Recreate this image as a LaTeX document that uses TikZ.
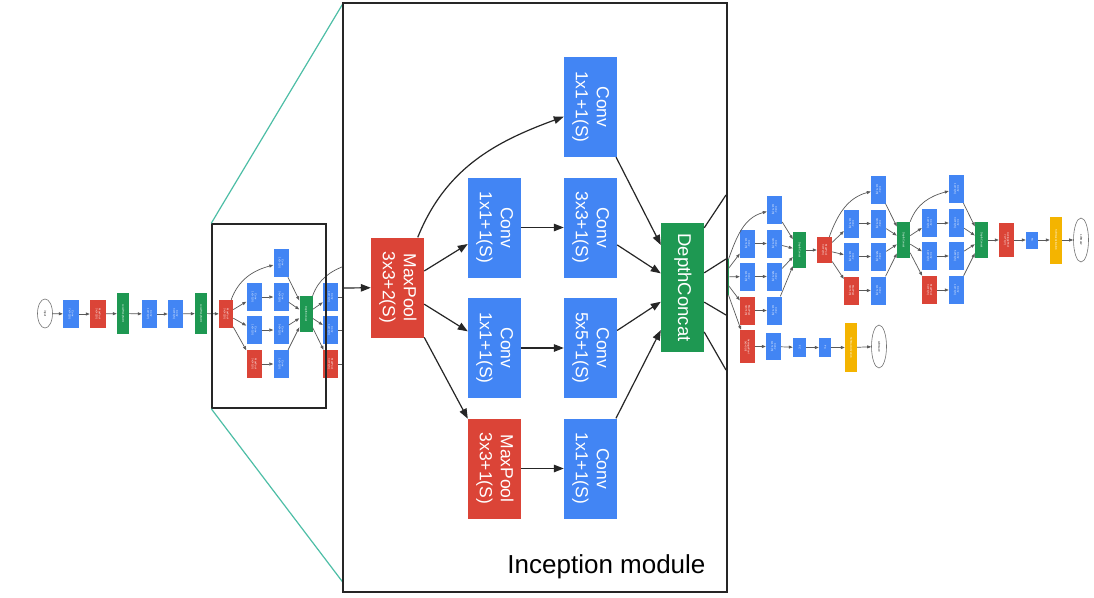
\documentclass[tikz,border=0pt]{standalone}
\usepackage{fontspec}
\setmainfont{Liberation Sans}
\usepackage{graphicx}
\usetikzlibrary{positioning,calc,arrows.meta,shapes.geometric}
\definecolor{gblue}{RGB}{66,133,244}
\definecolor{gred}{RGB}{219,68,55}
\definecolor{ggreen}{RGB}{30,152,82}
\definecolor{gyellow}{RGB}{244,180,0}
\definecolor{zoomline}{RGB}{77,190,166}
\newcommand{\vtext}[1]{\rotatebox{-90}{\begin{tabular}{@{}c@{}}#1\end{tabular}}}
\newcommand{\tinytext}[1]{\rotatebox{-90}{\fontsize{2.6}{3.2}\selectfont\begin{tabular}{@{}c@{}}#1\end{tabular}}}
\tikzset{bigconv/.style={shape=rectangle, fill=gblue, text=white, minimum width=53pt, minimum height=100pt, inner sep=0pt, font=\fontsize{17.5}{21}\selectfont}}
\tikzset{bigpool/.style={bigconv, fill=gred}}
\tikzset{bigcat/.style={bigconv, fill=ggreen, minimum width=43pt, minimum height=129pt, font=\fontsize{18.5}{22}\selectfont}}
\tikzset{bigarrow/.style={line width=1.2pt, draw=black!85, -{Triangle[length=10pt,width=7.5pt]}}}
\tikzset{bigline/.style={line width=1.2pt, draw=black!85}}
\tikzset{tconv/.style={shape=rectangle, fill=gblue, text=white, minimum width=15pt, minimum height=28pt, inner sep=0pt}}
\tikzset{tpool/.style={tconv, fill=gred}}
\tikzset{tnorm/.style={tconv, fill=ggreen, minimum width=12pt, minimum height=41pt}}
\tikzset{tcat/.style={tconv, fill=ggreen, minimum width=13pt, minimum height=36pt}}
\tikzset{tsoft/.style={tconv, fill=gyellow, minimum width=12pt, minimum height=47pt}}
\tikzset{tend/.style={shape=ellipse, draw=black!55, line width=0.6pt, fill=white, text=black, minimum width=15pt, minimum height=29pt, inner sep=0pt}}
\tikzset{tarrow/.style={line width=0.7pt, draw=black!65, -{Triangle[length=4pt,width=3pt]}}}
\tikzset{tline/.style={line width=0.7pt, draw=black!65}}
% one small inception block: prefix, input node, x and y of the concat, y of the top row
\newcommand{\tinception}[5]{%
  \node[tconv] (#1top) at (#3-25,-#5) {\tinytext{Conv\\1x1+1(S)}};
  \node[tconv] (#1a2) at (#3-52,-#5-34) {\tinytext{Conv\\1x1+1(S)}};
  \node[tconv] (#1b2) at (#3-25,-#5-34) {\tinytext{Conv\\3x3+1(S)}};
  \node[tconv] (#1a3) at (#3-52,-#5-67) {\tinytext{Conv\\1x1+1(S)}};
  \node[tconv] (#1b3) at (#3-25,-#5-67) {\tinytext{Conv\\5x5+1(S)}};
  \node[tpool] (#1a4) at (#3-52,-#5-101) {\tinytext{MaxPool\\3x3+1(S)}};
  \node[tconv] (#1b4) at (#3-25,-#5-101) {\tinytext{Conv\\1x1+1(S)}};
  \node[tcat]  (#1cat) at (#3,-#4) {\tinytext{DepthConcat}};
  \draw[tarrow] (#2) to[out=70,in=195] (#1top);
  \draw[tarrow] (#1top) -- (#1cat);
  \foreach \r in {2,3,4} {
    \draw[tarrow] (#2) -- (#1a\r);
    \draw[tarrow] (#1a\r) -- (#1b\r);
    \draw[tarrow] (#1b\r) -- (#1cat);
  }%
}

\begin{document}
\begin{tikzpicture}[x=1pt,y=1pt]
\fill[white] (0,0) rectangle (1094,-597);
\useasboundingbox (0,0) rectangle (1094,-597);
%Stem
\node[tend] (input) at (45,-313.5) {\tinytext{input}};
\node[tconv, minimum width=16pt] (conva) at (71,-314) {\tinytext{Conv\\7x7+2(S)}};
\node[tpool, minimum width=16pt] (poola) at (98,-314) {\tinytext{MaxPool\\3x3+2(S)}};
\node[tnorm] (norma) at (123,-313.5) {\tinytext{LocalRespNorm}};
\node[tconv] (convb) at (149.5,-314) {\tinytext{Conv\\1x1+1(V)}};
\node[tconv] (convc) at (175.5,-314) {\tinytext{Conv\\3x3+1(S)}};
\node[tnorm] (normb) at (201,-313.5) {\tinytext{LocalRespNorm}};
\node[tpool, minimum width=14pt] (poolb) at (226,-314) {\tinytext{MaxPool\\3x3+2(S)}};
\foreach \a/\b in {input/conva,conva/poola,poola/norma,norma/convb,convb/convc,convc/normb,normb/poolb}
  \draw[tarrow] (\a) -- (\b);
%Small inception blocks
\tinception{m3a}{poolb}{306}{314}{263}
\node[tconv] (m3bb) at (330.5,-297) {\tinytext{Conv\\1x1+1(S)}};
\node[tconv] (m3bc) at (330.5,-330) {\tinytext{Conv\\1x1+1(S)}};
\node[tpool] (m3bd) at (330.5,-364) {\tinytext{MaxPool\\3x3+1(S)}};
\coordinate (m3bup) at (347,-265);
\coordinate (m3bt2) at (347,-297);
\coordinate (m3bt3) at (347,-330);
\coordinate (m3bt4) at (347,-364);
\draw[tline] (m3acat) to[out=70,in=200] (m3bup);
\foreach \n in {b,c,d} \draw[tarrow] (m3acat) -- (m3b\n);
\draw[tline] (m3bb) -- (m3bt2);
\draw[tline] (m3bc) -- (m3bt3);
\draw[tline] (m3bd) -- (m3bt4);
\node[tcat] (m4acat) at (722,-277) {\tinytext{DepthConcat}};
\tinception{m4b}{m4acat}{799.5}{250}{209.5}
\node[tpool, minimum height=26pt] (m4pool) at (824.5,-250) {\tinytext{MaxPool\\3x3+2(S)}};
\draw[tarrow] (m4bcat) -- (m4pool);
\tinception{m4c}{m4pool}{903.5}{240}{189.5}
\tinception{m4d}{m4ccat}{981.5}{240}{189}
%Classifier heads
\node[tpool, minimum height=34pt] (avgpool) at (1006.5,-240) {\tinytext{AveragePool\\7x7+1(V)}};
\node[tconv, minimum width=12pt, minimum height=17pt] (fcend) at (1032,-240) {\tinytext{FC}};
\node[tsoft] (softend) at (1056,-240) {\tinytext{SoftmaxActivation}};
\node[tend, minimum height=44pt] (outend) at (1081,-240) {\tinytext{softmax2}};
\foreach \a/\b in {m4dcat/avgpool,avgpool/fcend,fcend/softend,softend/outend}
  \draw[tarrow] (\a) -- (\b);
\node[tpool, minimum height=33pt] (auxpool) at (747,-346.5) {\tinytext{AveragePool\\5x5+3(V)}};
\node[tconv, minimum height=27pt] (auxconv) at (773.5,-346.5) {\tinytext{Conv\\1x1+1(S)}};
\node[tconv, minimum width=13pt, minimum height=19pt] (auxfca) at (799.5,-347.5) {\tinytext{FC}};
\node[tconv, minimum width=12pt, minimum height=19pt] (auxfcb) at (825,-347.5) {\tinytext{FC}};
\node[tsoft, minimum height=49pt] (auxsoft) at (851,-347.5) {\tinytext{SoftmaxActivation}};
\node[tend, minimum height=43pt] (auxout) at (879,-346.5) {\tinytext{softmax0}};
\foreach \a/\b in {m4acat/auxpool,auxpool/auxconv,auxconv/auxfca,auxfca/auxfcb,auxfcb/auxsoft,auxsoft/auxout}
  \draw[tarrow] (\a) -- (\b);
%Zoom frames
\node[draw=black!85, line width=1.5pt, minimum width=114pt, minimum height=184pt, inner sep=0pt] (smallbox) at (269,-316) {};
\node[minimum width=384pt, minimum height=589pt, inner sep=0pt] (zoombox) at (535,-297.5) {};
\draw[zoomline, line width=1.2pt] (smallbox.north west) -- ($(zoombox.north west)+(0,-1)$);
\draw[zoomline, line width=1.2pt] (smallbox.south west) -- ($(zoombox.south west)+(0,10)$);
\draw[black!85, line width=1.8pt, fill=white] (zoombox.north west) rectangle (zoombox.south east);
%Inception module
\node[bigpool] (bmp1) at (397.5,-287.5) {\vtext{MaxPool\\3x3+2(S)}};
\node[bigconv] (btop) at (590.5,-107) {\vtext{Conv\\1x1+1(S)}};
\node[bigconv] (ba2) at (494.5,-227.5) {\vtext{Conv\\1x1+1(S)}};
\node[bigconv] (bb2) at (590.5,-227.5) {\vtext{Conv\\3x3+1(S)}};
\node[bigconv] (ba3) at (494.5,-348) {\vtext{Conv\\1x1+1(S)}};
\node[bigconv] (bb3) at (590.5,-348) {\vtext{Conv\\5x5+1(S)}};
\node[bigpool] (ba4) at (494.5,-468.5) {\vtext{MaxPool\\3x3+1(S)}};
\node[bigconv] (bb4) at (590.5,-468.5) {\vtext{Conv\\1x1+1(S)}};
\node[bigcat] (bcat) at (682.5,-287.5) {\vtext{DepthConcat}};
\node[anchor=base east, font=\fontsize{26}{31}\selectfont] (title) at (709,-573) {Inception module};
%Lines
\coordinate (inlet) at (343,-288);
\draw[bigarrow] (inlet) -- (bmp1);
\draw[bigarrow] (bmp1) to[out=68,in=200] (btop);
\foreach \r in {2,3,4} {
  \draw[bigarrow] (bmp1) -- (ba\r);
  \draw[bigarrow] (ba\r) -- (bb\r);
  \draw[bigarrow] (bb\r) -- (bcat);
}
\draw[bigarrow] (btop) -- (bcat);
\coordinate (outa) at (726,-195);
\coordinate (outb) at (726,-259);
\coordinate (outc) at (726,-315);
\coordinate (outd) at (726,-370);
\draw[bigline] (bcat.70) -- (outa);
\draw[bigline] (bcat.34) -- (outb);
\draw[bigline] (bcat.-34) -- (outc);
\draw[bigline] (bcat.-64) -- (outd);
\end{tikzpicture}
\end{document}
